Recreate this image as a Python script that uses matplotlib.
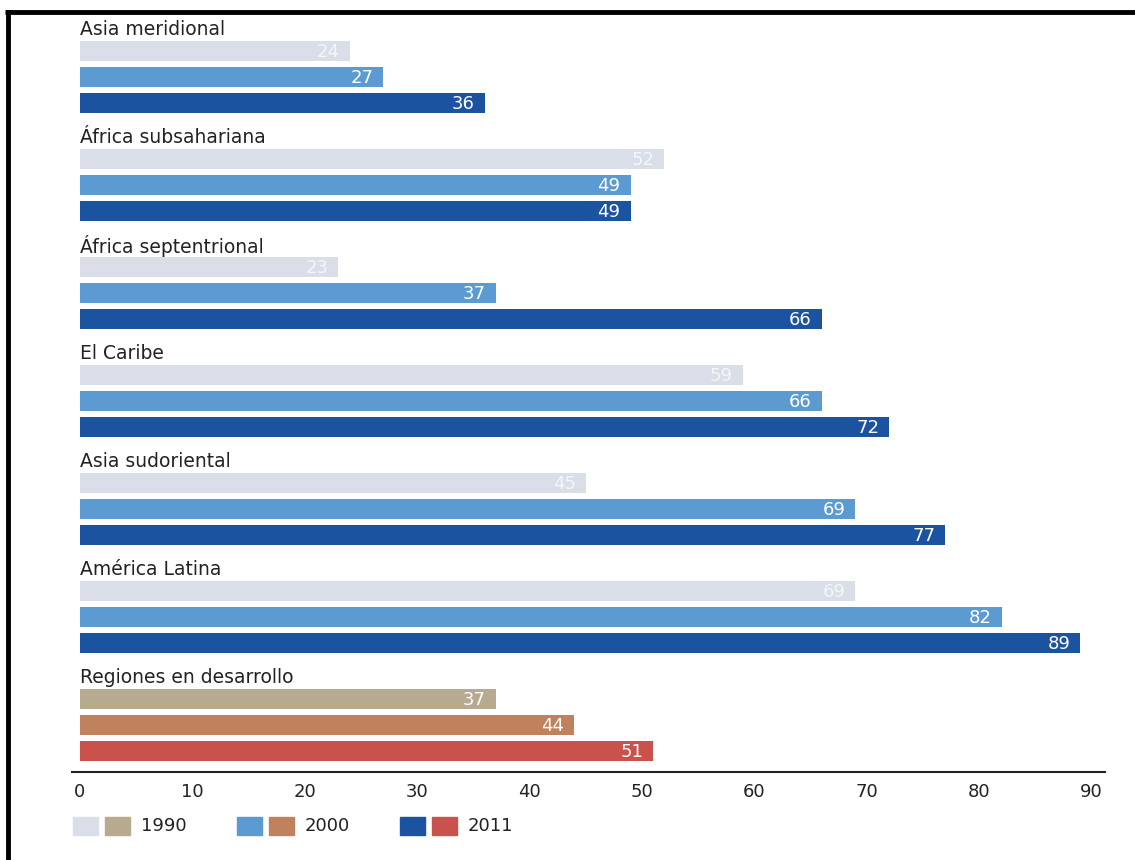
import matplotlib
matplotlib.use("Agg")
import matplotlib.pyplot as plt
from matplotlib.patches import Rectangle
from matplotlib.lines import Line2D

# --- data ---
regions = ["Asia meridional", "África subsahariana", "África septentrional",
           "El Caribe", "Asia sudoriental", "América Latina",
           "Regiones en desarrollo"]
years = ["1990", "2000", "2011"]
v1990 = [24, 52, 23, 59, 45, 69, 37]
v2000 = [27, 49, 37, 66, 69, 82, 44]
v2011 = [36, 49, 66, 72, 77, 89, 51]
ticks = [0, 10, 20, 30, 40, 50, 60, 70, 80, 90]

blues = ["#d9dee8", "#5b9bd2", "#1b53a0"]
warms = ["#b8aa8e", "#c0825c", "#c9524c"]
label_font = ["DejaVu Sans"]

W, H = 1135, 860
fig = plt.figure(figsize=(W / 100, H / 100), dpi=100)
ax = fig.add_axes([72 / W, (H - 772) / H, (1105 - 72) / W, (772 - 15) / H])

group_step = 4.15
bar_h = 0.77
series = [v1990, v2000, v2011]
for g, name in enumerate(regions):
    base = g * group_step
    cols = warms if g == len(regions) - 1 else blues
    for j, vals in enumerate(series):
        y = base + j
        ax.barh(y, vals[g], height=bar_h, color=cols[j], left=0)
        txt_col = "#f4f6f8" if j == 0 and cols is blues else "white"
        ax.text(vals[g] - 0.9, y + 0.04, str(vals[g]), ha="right", va="center",
                color=txt_col, fontsize=13, family=label_font)
    ax.text(0, base - 0.82, name, ha="left", va="center", fontsize=13.5,
            color="#222222", family=label_font)

ax.set_xlim(-0.7, 91.2)
ax.set_ylim(27.7, -1.38)
ax.set_xticks(ticks)
ax.set_xticklabels([str(t) for t in ticks], fontsize=13, color="#222222")
ax.tick_params(axis="x", length=0, pad=8)
ax.set_yticks([])
for s in ["top", "right", "left"]:
    ax.spines[s].set_visible(False)
ax.spines["bottom"].set_linewidth(1.5)
ax.spines["bottom"].set_color("#222222")

# legend: paired swatches per year
leg_y = (H - 835) / H
sw_w, sw_h = 25 / W, 18 / H
leg_x = [73, 237, 400]
for k, yr in enumerate(years):
    x0 = leg_x[k] / W
    fig.add_artist(Rectangle((x0, leg_y), sw_w, sw_h, transform=fig.transFigure,
                             color=blues[k]))
    fig.add_artist(Rectangle((x0 + 32 / W, leg_y), sw_w, sw_h,
                             transform=fig.transFigure, color=warms[k]))
    fig.text(x0 + 68 / W, leg_y + sw_h / 2, yr, ha="left", va="center",
             fontsize=13, color="#222222", family=label_font)

# black frame lines (top and left)
fig.add_artist(Line2D([5 / W, 1], [(H - 12) / H] * 2, transform=fig.transFigure,
                      color="black", linewidth=3.5, solid_capstyle="butt"))
fig.add_artist(Line2D([7.5 / W] * 2, [0, (H - 10) / H], transform=fig.transFigure,
                      color="black", linewidth=3.5, solid_capstyle="butt"))

fig.savefig("out.png", dpi=100)
